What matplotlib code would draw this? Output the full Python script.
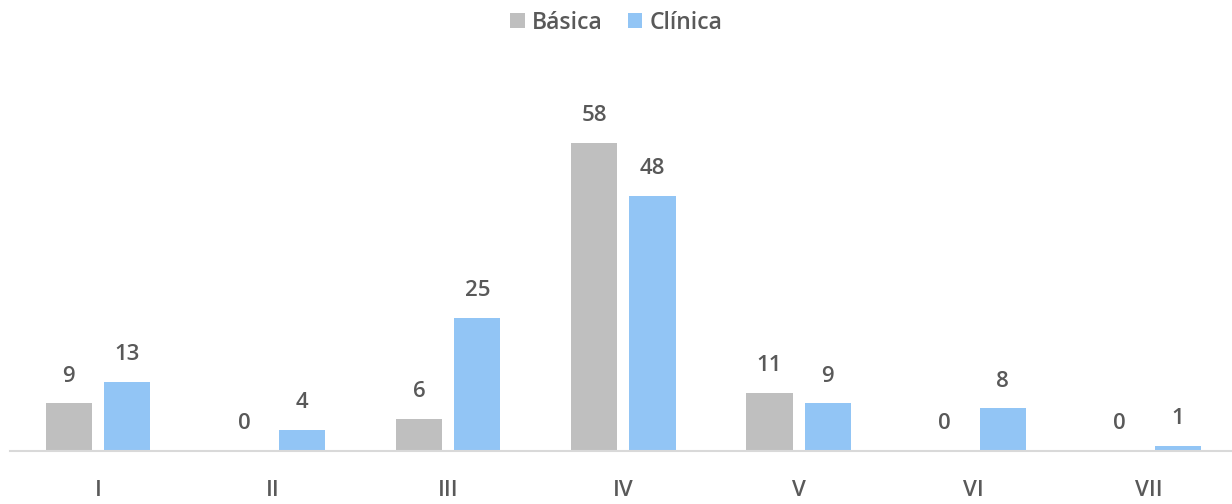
import numpy as np
import matplotlib.pyplot as plt

categories = ["I", "II", "III", "IV", "V", "VI", "VII"]
basica = [9, 0, 6, 58, 11, 0, 0]
clinica = [13, 4, 25, 48, 9, 8, 1]

plt.rcParams['font.family'] = ['Open Sans', 'DejaVu Sans']
text_color = '#595959'

fig = plt.figure(figsize=(12.32, 5.04), dpi=100)
ax = fig.add_axes([10.4 / 1232, 53 / 504, 1226 / 1232, 372 / 504])

x = np.arange(len(categories))
w = 0.263
off = 0.166
b1 = ax.bar(x - off, basica, w, color='#BFBFBF', label='Básica')
b2 = ax.bar(x + off, clinica, w, color='#92C5F5', label='Clínica')

for bars, vals in ((b1, basica), (b2, clinica)):
    for rect, v in zip(bars, vals):
        ax.annotate(str(v), (rect.get_x() + rect.get_width() / 2, v),
                    xytext=(0, 12), textcoords='offset points',
                    ha='center', va='bottom', fontsize=16,
                    fontweight='semibold', color=text_color)

ax.set_xlim(-0.5, len(categories) - 0.5)
ax.set_ylim(0, 70)
ax.set_xticks(x)
ax.set_xticklabels(categories, fontsize=16, fontweight='semibold', color=text_color)
ax.tick_params(axis='x', length=0, pad=21)
ax.set_yticks([])
for s in ['top', 'right', 'left']:
    ax.spines[s].set_visible(False)
ax.spines['bottom'].set_color('#D9D9D9')
ax.spines['bottom'].set_linewidth(1.5)
ax.spines['bottom'].set_bounds(-0.5, 6.5)

fig.legend(loc='upper center', bbox_to_anchor=(0.5, 1.02), ncol=2, frameon=False,
           prop={'size': 16.5, 'weight': 'semibold'}, labelcolor=text_color,
           handlelength=0.65, handleheight=0.65, handletextpad=0.3, columnspacing=1.1)

fig.savefig('out.png', dpi=100)
